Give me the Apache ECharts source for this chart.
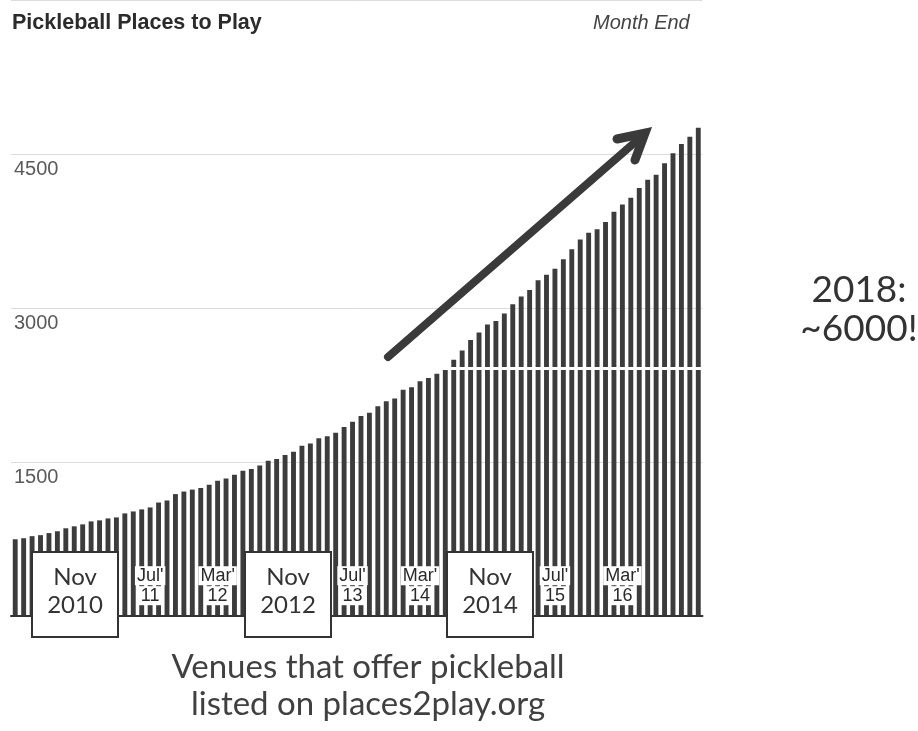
<!DOCTYPE html>
<html><head><meta charset="utf-8">
<script src="https://cdn.jsdelivr.net/npm/echarts@6/dist/echarts.min.js"></script>
<style>html,body{margin:0;padding:0;background:#fff;}#c{width:918px;height:731px;}</style>
</head><body><div id="c"></div>
<script>
// Month-end categories (Mar 2010 .. Dec 2016)
const months = [
 'Mar 2010','Apr 2010','May 2010','Jun 2010','Jul 2010','Aug 2010','Sep 2010','Oct 2010','Nov 2010','Dec 2010',
 'Jan 2011','Feb 2011','Mar 2011','Apr 2011','May 2011','Jun 2011','Jul 2011','Aug 2011','Sep 2011','Oct 2011','Nov 2011','Dec 2011',
 'Jan 2012','Feb 2012','Mar 2012','Apr 2012','May 2012','Jun 2012','Jul 2012','Aug 2012','Sep 2012','Oct 2012','Nov 2012','Dec 2012',
 'Jan 2013','Feb 2013','Mar 2013','Apr 2013','May 2013','Jun 2013','Jul 2013','Aug 2013','Sep 2013','Oct 2013','Nov 2013','Dec 2013',
 'Jan 2014','Feb 2014','Mar 2014','Apr 2014','May 2014','Jun 2014','Jul 2014','Aug 2014','Sep 2014','Oct 2014','Nov 2014','Dec 2014',
 'Jan 2015','Feb 2015','Mar 2015','Apr 2015','May 2015','Jun 2015','Jul 2015','Aug 2015','Sep 2015','Oct 2015','Nov 2015','Dec 2015',
 'Jan 2016','Feb 2016','Mar 2016','Apr 2016','May 2016','Jun 2016','Jul 2016','Aug 2016','Sep 2016','Oct 2016','Nov 2016','Dec 2016'
];
// Pickleball places to play (venues listed)
const venues = [
 745, 755, 775, 785, 805, 823, 852, 871, 890, 919,
 929, 948, 958, 997, 1016, 1036, 1055, 1103, 1123, 1185,
 1210, 1229, 1245, 1277, 1316, 1338, 1374, 1413, 1429, 1464,
 1510, 1526, 1565, 1597, 1655, 1677, 1729, 1748, 1784, 1839,
 1890, 1945, 1977, 2042, 2090, 2116, 2203, 2226, 2284, 2316,
 2358, 2419, 2494, 2584, 2687, 2761, 2838, 2871, 2945, 3036,
 3110, 3174, 3268, 3323, 3380, 3474, 3571, 3665, 3733, 3767,
 3837, 3936, 4006, 4074, 4168, 4248, 4297, 4410, 4507, 4597,
 4668, 4755
];
const yTicks = [0, 1500, 3000, 4500, 6000];
const boxLabels = ['Nov\n2010', 'Nov\n2012', 'Nov\n2014'];
const titleText = 'Pickleball Places to Play';
const subText = 'Month End';
const noteText = '2018:\n~6000!';
const captionText = 'Venues that offer pickleball\nlisted on places2play.org';
const scanGapValue = 2410;

const chart = echarts.init(document.getElementById('c'), null, {renderer: 'canvas'});
const boxX = [32, 245, 447];
const option = {
  animation: false,
  backgroundColor: '#fff',
  grid: {left: 11, right: 215.5, top: -4.3, bottom: 115.3, containLabel: false},
  xAxis: {
    type: 'category', data: months, boundaryGap: true, z: 10,
    axisLine: {show: true, lineStyle: {color: '#333', width: 2}},
    axisTick: {show: false},
    axisLabel: {
      show: true, inside: true, interval: 7, margin: 10,
      fontFamily: 'Liberation Sans', fontSize: 18, lineHeight: 20, color: '#2a2a2a',
      rich: {
        m: {fontFamily: 'Liberation Sans', fontSize: 18, lineHeight: 20, color: '#2a2a2a',
            backgroundColor: '#fff', padding: [1, 2, 0, 2]}
      },
      formatter: function (val, idx) {
        if (idx === 0) return '';
        const p = val.split(' ');
        if (p[0] === 'Nov') return '';
        return '{m|' + p[0] + "'}\n{m|" + p[1].slice(2) + '}';
      }
    },
    splitLine: {show: false}
  },
  yAxis: {
    type: 'value', min: yTicks[0], max: yTicks[yTicks.length - 1], interval: yTicks[1] - yTicks[0],
    axisLine: {show: false}, axisTick: {show: false},
    axisLabel: {
      inside: true, align: 'left', verticalAlign: 'top', margin: 3, padding: [6, 0, 0, 0],
      showMinLabel: false, showMaxLabel: false,
      formatter: function (v) { return String(v); },
      fontFamily: 'Liberation Sans', fontSize: 20, color: '#5a5a5a'
    },
    splitLine: {show: true, lineStyle: {color: '#dcdcdc', width: 1}}
  },
  series: [{
    type: 'bar', data: venues, barWidth: '58%',
    itemStyle: {color: '#3c3c3c'},
    z: 2,
    markLine: {
      silent: true, symbol: 'none', z: 5,
      lineStyle: {color: '#fff', width: 3, type: 'solid'},
      label: {show: false},
      data: [{yAxis: scanGapValue}]
    }
  }],
  graphic: [
    {type: 'text', left: 12, top: 12, style: {text: titleText, font: 'bold 21.5px "Liberation Sans"', fill: '#2b2b2b'}},
    {type: 'text', left: 593, top: 13, style: {text: subText, font: 'italic 20px "Liberation Sans"', fill: '#444'}},
    // arrow
    {type: 'polyline', z: 100, shape: {points: [[388, 357], [641, 137]]}, style: {stroke: '#3a3a3a', lineWidth: 8, lineCap: 'round', fill: null}},
    {type: 'polyline', z: 100, shape: {points: [[617, 139], [645, 133], [635, 160]]}, style: {stroke: '#3a3a3a', lineWidth: 9, lineCap: 'round', lineJoin: 'miter', fill: null}},
    {type: 'text', z: 100, x: 859, y: 310, style: {text: noteText, font: '37px Lato', lineHeight: 39, fill: '#333', align: 'center', verticalAlign: 'middle'}},
    {type: 'text', z: 100, x: 368, y: 686, style: {text: captionText, font: '33px Lato', lineHeight: 37, fill: '#404040', align: 'center', verticalAlign: 'middle'}}
  ].concat(boxLabels.map(function (t, i) {
    return {
      type: 'group', x: boxX[i], y: 552, z: 100,
      children: [
        {type: 'rect', z: 100, shape: {x: 0, y: 0, width: 86, height: 85}, style: {fill: '#fff', stroke: '#333', lineWidth: 2}},
        {type: 'text', z: 101, x: 43, y: 39, style: {text: t, font: '24px Lato', lineHeight: 28, fill: '#333', align: 'center', verticalAlign: 'middle'}}
      ]
    };
  }))
};
chart.setOption(option);
</script>
</body></html>
